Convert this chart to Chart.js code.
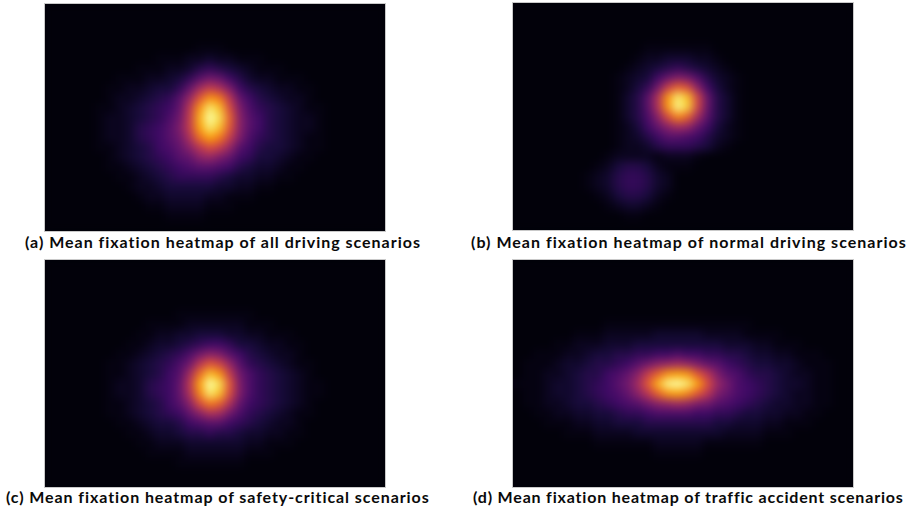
<!DOCTYPE html>
<html><head><meta charset="utf-8">
<title>Mean fixation heatmaps</title>
<script src="https://cdn.jsdelivr.net/npm/chart.js@4.4.1/dist/chart.umd.min.js"></script>
<style>
html,body{margin:0;padding:0;background:#fff;}
body{width:915px;height:515px;position:relative;overflow:hidden;}
.panel{position:absolute;width:340px;height:227px;box-shadow:0 0 0 1px #c9c9c9;background:#02010a;}
.panel canvas{display:block;}
.cap{position:absolute;font-family:Lato,"Open Sans",sans-serif;font-weight:700;font-size:16px;line-height:20px;color:#0a0a0a;white-space:nowrap;}
</style></head><body>
<div class="panel" style="left:45px;top:4px"><canvas id="hmA" width="340" height="227"></canvas></div>
<div class="panel" style="left:513px;top:3px"><canvas id="hmB" width="340" height="227"></canvas></div>
<div class="panel" style="left:45px;top:260px"><canvas id="hmC" width="340" height="227"></canvas></div>
<div class="panel" style="left:513px;top:260px"><canvas id="hmD" width="340" height="227"></canvas></div>
<script>
// ---- data ----
const gridColumns = [0,1,2,3,4,5,6,7,8,9,10,11,12,13,14,15,16,17,18,19,20,21,22,23,24,25,26,27,28,29,30,31,32,33];
const gridRows = [0,1,2,3,4,5,6,7,8,9,10,11,12,13,14,15,16,17,18,19,20,21,22];
const levelMax = 35; // each character is a base-36 level 0..35 (0 = none, 35 = peak)

const panelTitles = [
  "(a) Mean fixation heatmap of all driving scenarios",
  "(b) Mean fixation heatmap of normal driving scenarios",
  "(c) Mean fixation heatmap of safety-critical scenarios",
  "(d) Mean fixation heatmap of traffic accident scenarios"
];

// (a) all driving scenarios
const heatA = [
  "0000000000000000000000000000000000",
  "0000000000000000000000000000000000",
  "0000000000000000000000000000000000",
  "0000000000011111111111000000000000",
  "0000000011111112221111111000000000",
  "0000001111122233433222111110000000",
  "0000011112223346765432221111000000",
  "000011122233457acb8643322211100000",
  "00011122334557bgjhd865433221110000",
  "0011112334567afmrpib86543321111000",
  "0011122345678birxuld97654322111000",
  "0011123345679cjtzwnea8654332111000",
  "001112334678adjsxumea8654332111000",
  "001112334678achospjd97654322111000",
  "0011122345689beiljfa86554322111000",
  "0001112345678abefdb875543221110000",
  "000111223456789aa98654432211110000",
  "0000111223456777765443322111100000",
  "0000011123345555544332211111000000",
  "0000001112334444332221111100000000",
  "0000000111223333222111110000000000",
  "0000000011112222111110000000000000",
  "0000000000111111110000000000000000"
];
// (b) normal driving scenarios
const heatB = [
  "0000000000000000000000000000000000",
  "0000000000000000000000000000000000",
  "0000000000000111111100000000000000",
  "0000000000011111111111000000000000",
  "0000000000111222222211100000000000",
  "0000000001112334443321110000000000",
  "0000000001123456765432110000000000",
  "000000001123458bdc9643211000000000",
  "00000000112357cjnle853211000000000",
  "0000000011246ahrxukb64211000000000",
  "0000000011246ahryvkb64211000000000",
  "00000000112469elqnga64211000000000",
  "00000000112358begfb853211000000000",
  "000000001123468aa98643211000000000",
  "0000000001233467776532110000000000",
  "0000000012333323332100000000000000",
  "0000000123566532221000000000000000",
  "0000001234677643110000000000000000",
  "0000001234677643100000000000000000",
  "0000000123566532000000000000000000",
  "0000000012344321000000000000000000",
  "0000000001122110000000000000000000",
  "0000000000000000000000000000000000"
];
// (c) safety-critical scenarios
const heatC = [
  "0000000000000000000000000000000000",
  "0000000000000000000000000000000000",
  "0000000000000000000000000000000000",
  "0000000000001111111110000000000000",
  "0000000001111111111111110000000000",
  "0000000011111222222221111100000000",
  "0000001111222233333322211110000000",
  "0000011112233445554433222111000000",
  "0000011122344567887554332211100000",
  "000011122345679ceda865433211100000",
  "00001122345679cimkfa76543221110000",
  "0001112234568agourjc97654321110000",
  "0001112334678biszwmd97654322110000",
  "0001112334678bhqxuld97654322110000",
  "0001112234568aelpnhb87654321110000",
  "00001122345678behgc976543221110000",
  "0000111223455689aa8765433211100000",
  "0000011122344566766544332211100000",
  "0000011112233344444433222111000000",
  "0000001111222233333322211110000000",
  "0000000011111222222211111100000000",
  "0000000000111111111111110000000000",
  "0000000000000111111110000000000000"
];
// (d) traffic accident scenarios
const heatD = [
  "0000000000000000000000000000000000",
  "0000000000000000000000000000000000",
  "0000000000000000000000000000000000",
  "0000000000000000000000000000000000",
  "0000000000111111111111100000000000",
  "0000011111111111111111111110000000",
  "0001111112222222222222221111110000",
  "0111112223333344444333322221111100",
  "1111223334445555555554443322211111",
  "1122233455667788988776654433222111",
  "122234456678acefgfdba8765544322211",
  "12233456689bejnrsrmida976654332211",
  "2223445678acgmtyzxslfc987654432211",
  "12234456789beinrsqmidb987654332211",
  "122334556789acefgfdca9876544332211",
  "1122334455677899998877655443322111",
  "1112223344555666666655444332221111",
  "1111122233334444444443333222111110",
  "0011111122222233333222222111111000",
  "0000111111111122222111111111000000",
  "0000000011111111111111111000000000",
  "0000000000000000000000000000000000",
  "0000000000000000000000000000000000"
];

// ---- styling (not data) ----
const colorVmin = 1.5;   // colour-scale lower limit, in levels
const capLayout = [ // left, top, target width
  [25, 232, 396], [471, 232, 436], [6, 487, 424], [473, 487, 430]
];
const infernoStops = [
  [2,1,10],[22,11,57],[66,10,104],[106,23,110],[147,38,103],[188,55,84],
  [221,81,58],[243,120,25],[252,165,10],[246,215,70],[252,255,164]
];
function inferno(t){
  t = Math.max(0, Math.min(1, t));
  const p = t * 10, i = Math.min(9, Math.floor(p)), f = p - i;
  const a = infernoStops[i], b = infernoStops[i + 1];
  return 'rgb(' + [0,1,2].map(k => Math.round(a[k] + (b[k] - a[k]) * f)).join(',') + ')';
}
function levelColor(level){
  return inferno((level - colorVmin) / (levelMax - colorVmin));
}
function rowLevels(rowStr){
  return gridColumns.map(c => parseInt(rowStr.charAt(c) || '0', 36));
}

const smoothPlugin = {
  id: 'smooth',
  beforeDatasetsDraw(chart){
    const {ctx, chartArea: a} = chart;
    ctx.save(); ctx.fillStyle = inferno(0);
    ctx.fillRect(a.left, a.top, a.right - a.left, a.bottom - a.top);
    ctx.restore();
  },
  afterDatasetsDraw(chart){
    const {ctx, canvas, chartArea: a} = chart;
    const off = document.createElement('canvas');
    off.width = canvas.width; off.height = canvas.height;
    off.getContext('2d').drawImage(canvas, 0, 0);
    ctx.save();
    ctx.setTransform(1,0,0,1,0,0);
    ctx.beginPath(); ctx.rect(a.left, a.top, a.right - a.left, a.bottom - a.top); ctx.clip();
    ctx.filter = 'blur(4px)';
    ctx.drawImage(off, 0, 0);
    ctx.restore();
  }
};

function drawHeatmap(id, rows){
  const datasets = gridRows.map(r => ({
    label: 'row ' + r,
    data: gridColumns.map(() => 1),
    backgroundColor: rowLevels(rows[r]).map(levelColor),
    borderWidth: 0,
    barPercentage: 1,
    categoryPercentage: 1,
    stack: 'grid'
  }));
  return new Chart(document.getElementById(id), {
    type: 'bar',
    data: { labels: gridColumns, datasets },
    options: {
      responsive: false,
      animation: false,
      events: [],
      layout: { padding: 0 },
      plugins: { legend: { display: false }, tooltip: { enabled: false } },
      scales: {
        x: { display: false, stacked: true, offset: true },
        y: { display: false, stacked: true, min: 0, max: gridRows.length, reverse: true }
      }
    },
    plugins: [smoothPlugin]
  });
}

drawHeatmap('hmA', heatA);
drawHeatmap('hmB', heatB);
drawHeatmap('hmC', heatC);
drawHeatmap('hmD', heatD);

// captions as real text
const caps = panelTitles.map((t, i) => {
  const d = document.createElement('div');
  d.className = 'cap';
  d.textContent = t;
  d.style.left = capLayout[i][0] + 'px';
  d.style.top = capLayout[i][1] + 'px';
  document.body.appendChild(d);
  return d;
});
function fitCaps(){
  caps.forEach((d, i) => {
    d.style.letterSpacing = '0px';
    const w = d.getBoundingClientRect().width;
    const n = d.textContent.length;
    d.style.letterSpacing = ((capLayout[i][2] - w) / n).toFixed(3) + 'px';
  });
}
fitCaps();
if (document.fonts && document.fonts.ready) document.fonts.ready.then(fitCaps);
</script>
</body></html>
